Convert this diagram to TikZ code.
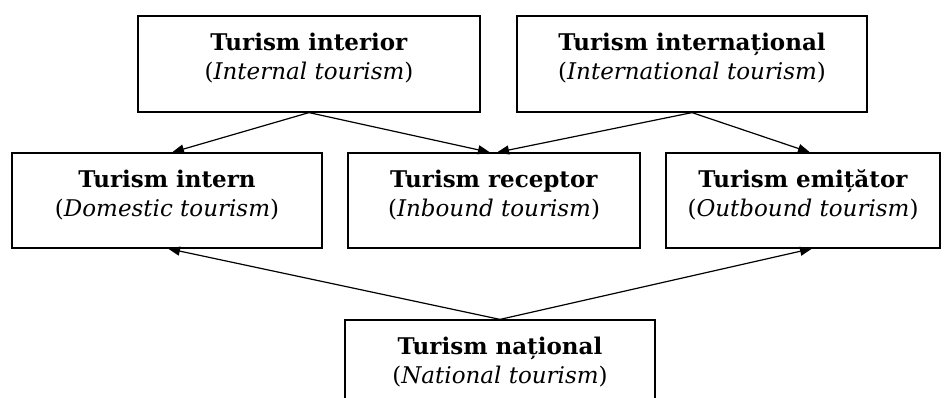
\documentclass[tikz,border=0pt]{standalone}
\usepackage{fontspec}
\setmainfont{DejaVu Serif}
\usetikzlibrary{arrows.meta}
\begin{document}
\begin{tikzpicture}[x=1pt,y=-1pt,
  box/.style={draw,line width=1.2pt,minimum width=#1,minimum height=96pt,inner sep=0pt},
  txt/.style={align=center,font=\fontsize{23}{29}\selectfont,inner sep=0pt},
  arr/.style={line width=1.2pt,-{Triangle[length=12pt,width=9pt]}}]
\path[use as bounding box,clip] (0,0) rectangle (951,398);
\fill[white] (0,0) rectangle (951,398);
% boxes
\node[box=342pt] (tl) at (309,64) {};
\node[box=350pt] (tr) at (692,64) {};
\node[box=310pt,minimum height=95pt] (ml) at (167,200.5) {};
\node[box=292pt,minimum height=95pt] (mc) at (494,200.5) {};
\node[box=274pt,minimum height=95pt] (mr) at (803,200.5) {};
\node[box=310pt] (bt) at (500,368) {};
% texts
\node[txt] (tlt) at (309,58) {\textbf{Turism interior}\\(\textit{Internal tourism})};
\node[txt] (trt) at (692,58) {\textbf{Turism internațional}\\(\textit{International tourism})};
\node[txt] (mlt) at (167,195) {\textbf{Turism intern}\\(\textit{Domestic tourism})};
\node[txt] (mct) at (494,195) {\textbf{Turism receptor}\\(\textit{Inbound tourism})};
\node[txt] (mrt) at (803,195) {\textbf{Turism emițător}\\(\textit{Outbound tourism})};
\node[txt] (btt) at (500,362) {\textbf{Turism național}\\(\textit{National tourism})};
% arrows
\draw[arr] (tl.south) -- ([xshift=5pt]ml.north);
\draw[arr] (tl.south) -- ([xshift=-4pt]mc.north);
\draw[arr] (tr.south) -- ([xshift=3pt]mc.north);
\draw[arr] (tr.south) -- ([xshift=7pt]mr.north);
\draw[arr] (bt.north) -- ([xshift=1pt]ml.south);
\draw[arr] (bt.north) -- ([xshift=9pt]mr.south);
\end{tikzpicture}
\end{document}
